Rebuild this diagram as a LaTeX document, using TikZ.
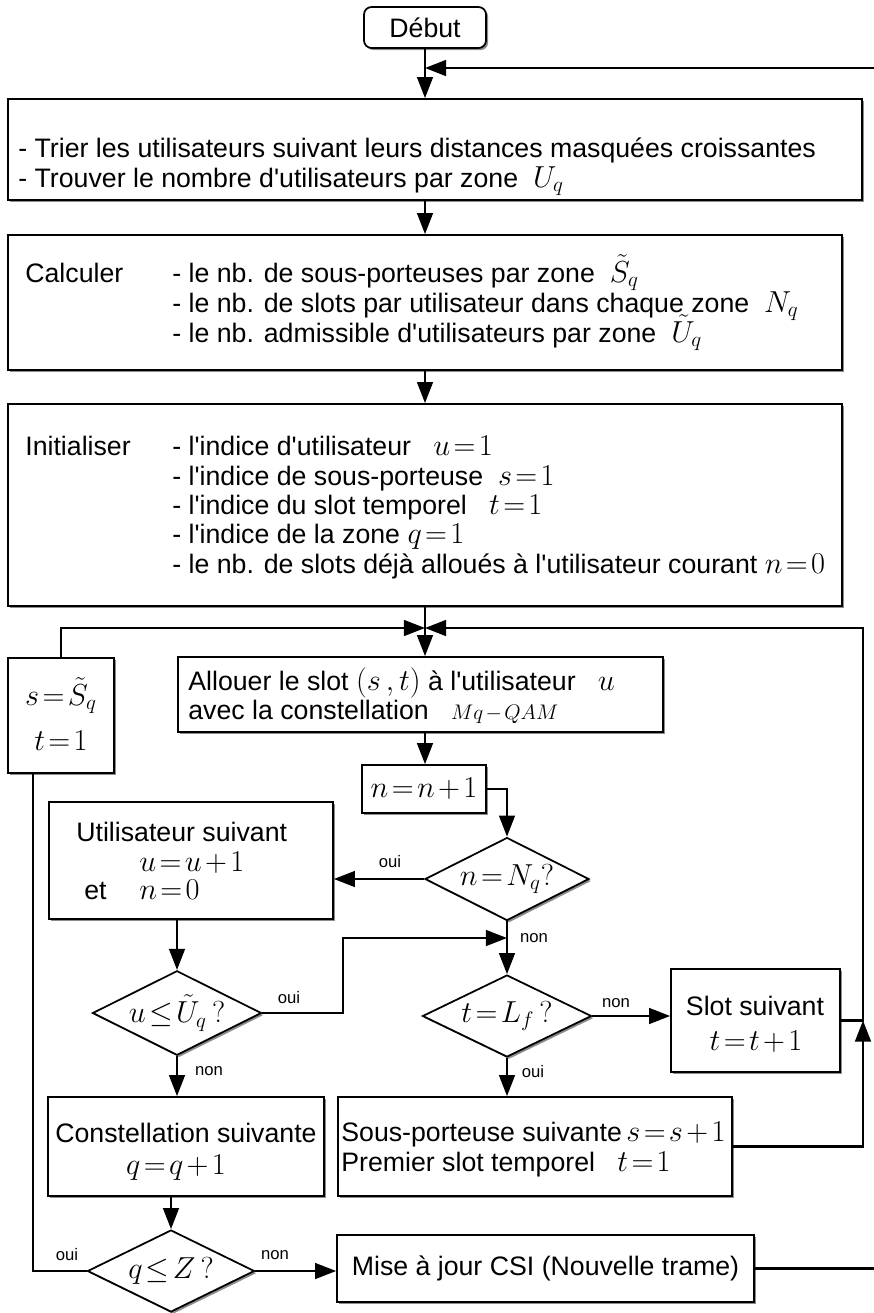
\documentclass[tikz,border=0pt]{standalone}
\usepackage{amsmath}
\usepackage{fontspec}
\setmainfont{Liberation Sans}[Ligatures=TeXOff]
\usepackage{tikz}
\usetikzlibrary{positioning,shapes.geometric,arrows.meta,shadows}
\DeclareMathSizes{15.2}{18}{13}{10}
\thickmuskip=2mu plus 1mu
\medmuskip=2mu plus 1mu
\tikzstyle{flowChart} = [x = 0.02cm, y = -0.02cm, font=\fontsize{15.2}{18}\selectfont]
\tikzstyle{boxStyle} = [draw, line width=1pt, fill=white, inner sep=0pt, drop shadow={shadow xshift=1.2pt, shadow yshift=-1.2pt, fill=black!45, opacity=1}]
\tikzstyle{startStyle} = [boxStyle, rounded corners=.15cm]
\tikzstyle{decisionStyle} = [boxStyle, diamond, aspect=2]
\tikzstyle{arrowStyle} = [line width=1.2pt, -{Triangle[length=12pt,width=9pt]}]
\tikzstyle{lineStyle} = [line width=1.2pt]
\tikzstyle{boxText} = [anchor=base west, inner sep=0pt]
\tikzstyle{centerText} = [anchor=base, inner sep=0pt]
\tikzstyle{answerText} = [font=\fontsize{9.5}{11}\selectfont, inner sep=0pt]
\tikzset{boxSize/.style 2 args={minimum width=#1*0.02cm, minimum height=#2*0.02cm}}

\begin{document}
\begin{tikzpicture}[flowChart]
        \useasboundingbox (0,0) rectangle (874,1313);

        \node [startStyle, boxSize={122}{41}] (debut) at (425,27.5) {Début};
        \node [boxStyle, boxSize={854}{101}] (trier) at (435,149.5) {};
        \node [boxStyle, boxSize={834}{135}] (calcul) at (425,302.5) {};
        \node [boxStyle, boxSize={834}{202}] (init) at (425,505) {};
        \node [boxStyle, boxSize={106}{115}] (reinit) at (61,715.5) {};
        \node [boxStyle, boxSize={485}{75}] (allouer) at (420.5,694.5) {};
        \node [boxStyle, boxSize={124}{48}] (incr) at (424,789) {$n=n+1$};
        \node [decisionStyle, boxSize={164}{83}] (testN) at (507,879) {$n=N_q?$};
        \node [boxStyle, boxSize={284}{117}] (userNext) at (191,860.5) {};
        \node [decisionStyle, boxSize={165}{82}] (testU) at (177,1013) {$u\leq\tilde{U}_q\,?$};
        \node [decisionStyle, boxSize={169}{82}] (testL) at (507,1016) {$t=L_f\,?$};
        \node [boxStyle, boxSize={169}{103}] (slotNext) at (755.5,1020.5) {};
        \node [boxStyle, boxSize={394}{99}] (carrierNext) at (535,1146.5) {};
        \node [boxStyle, boxSize={276}{99}] (constNext) at (186,1146.5) {};
        \node [decisionStyle, boxSize={167}{82}] (testQ) at (171,1271) {$q\leq Z\,?$};
        \node [boxStyle, boxSize={417}{67}] (csi) at (545.5,1268.5) {Mise à jour CSI (Nouvelle trame)};

        \node [boxText] (trierA) at (18,157) {- Trier les utilisateurs suivant leurs distances masquées croissantes};
        \node [boxText] (trierB) at (18,187) {- Trouver le nombre d'utilisateurs par zone ~$U_q$};
        \node [boxText] (calculA) at (25,282) {Calculer};
        \node [boxText] (calculB) at (172,282) {- le nb. de sous-porteuses par zone ~$\tilde{S}_q$};
        \node [boxText] (calculC) at (172,312) {- le nb. de slots par utilisateur dans chaque zone ~$N_q$};
        \node [boxText] (calculD) at (172,342) {- le nb. admissible d'utilisateurs par zone ~$\tilde{U}_q$};
        \node [boxText] (initA) at (25,455) {Initialiser};
        \node [boxText] (initB) at (172,455) {- l'indice d'utilisateur ~ $u=1$};
        \node [boxText] (initC) at (172,485) {- l'indice de sous-porteuse ~$s=1$};
        \node [boxText] (initD) at (172,514) {- l'indice du slot temporel ~ $t=1$};
        \node [boxText] (initE) at (172,543) {- l'indice de la zone $q=1$};
        \node [boxText] (initF) at (172,573) {- le nb. de slots déjà alloués à l'utilisateur courant $n=0$};
        \node [centerText] (reinitA) at (61,705) {$s=\tilde{S}_q$};
        \node [centerText] (reinitB) at (61,750) {$t=1$};
        \node [boxText] (allouerA) at (188,690) {Allouer le slot $(s\,,t)$ à l'utilisateur ~ $u$};
        \node [boxText] (allouerB) at (188,719) {avec la constellation ~ {\fontsize{12}{14}\selectfont$Mq-QAM$}};
        \node [boxText] (userNextA) at (76,841) {Utilisateur suivant};
        \node [boxText] (userNextB) at (139,871) {$u=u+1$};
        \node [boxText] (userNextC) at (84,899) {et};
        \node [boxText] (userNextD) at (139,899) {$n=0$};
        \node [boxText] (constNextA) at (55,1142) {Constellation suivante};
        \node [centerText] (constNextB) at (176,1174) {$q=q+1$};
        \node [boxText] (carrierNextA) at (341,1141) {Sous-porteuse suivante\,$s=s+1$};
        \node [boxText] (carrierNextB) at (341,1171) {Premier slot temporel ~ $t=1$};
        \node [centerText] (slotNextA) at (755,1015) {Slot suivant};
        \node [centerText] (slotNextB) at (756,1050) {$t=t+1$};

        \node [answerText] (ouiN) at (390,862) {oui};
        \node [answerText] (nonN) at (534,938) {non};
        \node [answerText] (ouiU) at (289,998) {oui};
        \node [answerText] (nonU) at (209,1071) {non};
        \node [answerText] (nonL) at (616,1003) {non};
        \node [answerText] (ouiL) at (533,1072) {oui};
        \node [answerText] (ouiQ) at (67,1255) {oui};
        \node [answerText] (nonQ) at (275,1255) {non};

        \coordinate (retourHaut) at (874,68);
        \coordinate (retourBas) at (874,1268.5);
        \coordinate (fusion) at (425,628);
        \coordinate (coinDroit) at (863,628);
        \coordinate (coinGauche) at (33,1271);
        \coordinate (coudeU) at (343,938);

        \draw [arrowStyle] (debut.south) -- (debut.south |- trier.north);
        \draw [arrowStyle] (retourHaut) -- (debut.south |- retourHaut);
        \draw [arrowStyle] (calcul.north |- trier.south) -- (calcul.north);
        \draw [arrowStyle] (calcul.south) -- (init.north);
        \draw [lineStyle] (init.south) -- (fusion);
        \draw [arrowStyle] (fusion) -- (fusion |- allouer.north);
        \draw [arrowStyle] (reinit.north) |- (fusion);
        \draw [arrowStyle] (slotNext.east) -| (coinDroit) -- (fusion);
        \draw [arrowStyle] (carrierNext.east) -| (slotNext.east -| coinDroit);
        \draw [arrowStyle] (fusion |- allouer.south) -- (fusion |- incr.north);
        \draw [arrowStyle] (incr.east) -| (testN.north);
        \draw [arrowStyle] (testN.west) -- (testN.west -| userNext.east);
        \draw [arrowStyle] (testN.south) -- (testL.north);
        \draw [arrowStyle] (testU.north |- userNext.south) -- (testU.north);
        \draw [arrowStyle] (testU.east) -| (coudeU) -- (testL.north |- coudeU);
        \draw [arrowStyle] (testL.east) -- (testL.east -| slotNext.west);
        \draw [arrowStyle] (testL.south) -- (testL.south |- carrierNext.north);
        \draw [arrowStyle] (testU.south) -- (testU.south |- constNext.north);
        \draw [arrowStyle] (testQ.north |- constNext.south) -- (testQ.north);
        \draw [arrowStyle] (testQ.east) -- (testQ.east -| csi.west);
        \draw [lineStyle] (testQ.west) -- (coinGauche) -- (coinGauche |- reinit.south);
        \draw [lineStyle] (csi.east) -- (csi.east -| retourBas);
      \end{tikzpicture}
\end{document}
